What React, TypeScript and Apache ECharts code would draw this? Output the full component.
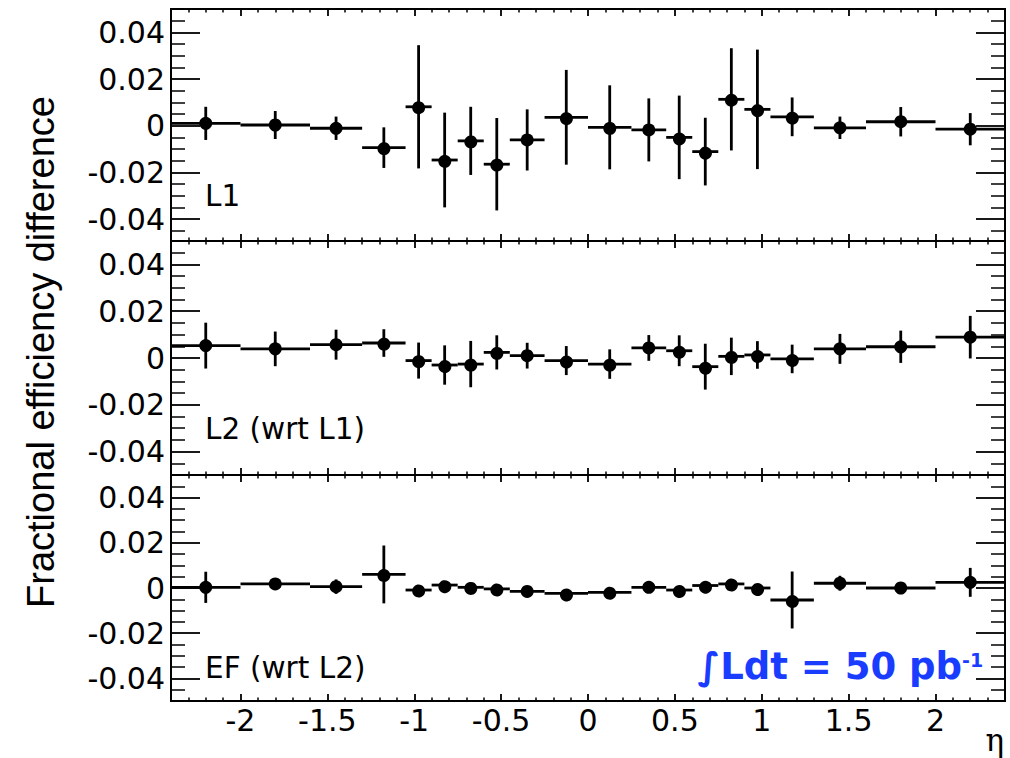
import React, { useEffect, useRef } from "react";
import * as echarts from "echarts";

// ---- data ----
const BIN_EDGES = [-2.4, -2.0, -1.6, -1.3, -1.05, -0.9, -0.75, -0.6, -0.45, -0.25, 0, 0.25, 0.45, 0.6, 0.75, 0.9, 1.05, 1.3, 1.6, 2.0, 2.4];

const L1_VALUES = [0.001, 0.0003, -0.0011, -0.0094, 0.0081, -0.0147, -0.0065, -0.0165, -0.0061, 0.0036, -0.0007, -0.0018, -0.005, -0.0111, 0.0113, 0.007, 0.0038, -0.0009, 0.0017, -0.0015];
const L1_ERRORS = [0.0071, 0.006, 0.005, 0.0087, 0.0264, 0.0203, 0.0146, 0.0198, 0.0131, 0.0203, 0.018, 0.0135, 0.0179, 0.0145, 0.0219, 0.0256, 0.0083, 0.0048, 0.0063, 0.0069];

const L2_VALUES = [0.0053, 0.0039, 0.0057, 0.0064, -0.0011, -0.003, -0.0026, 0.0024, 0.001, -0.0011, -0.0026, 0.0043, 0.0031, -0.0037, 0.0007, 0.0013, -0.0004, 0.0039, 0.0048, 0.0089];
const L2_ERRORS = [0.0098, 0.0074, 0.0064, 0.0059, 0.0077, 0.0084, 0.0099, 0.0073, 0.0055, 0.0062, 0.0063, 0.0055, 0.0066, 0.0098, 0.008, 0.0059, 0.0061, 0.0064, 0.0069, 0.0091];

const EF_VALUES = [0.0003, 0.0018, 0.0006, 0.006, -0.0009, 0.0013, 0.0003, -0.0004, -0.0015, -0.0024, -0.0019, 0.0003, -0.0009, 0.0011, 0.0018, 0.0, -0.0053, 0.0021, 0.0, 0.0025];
const EF_ERRORS = [0.0069, 0.0015, 0.0032, 0.0128, 0.001, 0.001, 0.001, 0.001, 0.001, 0.001, 0.001, 0.001, 0.001, 0.001, 0.001, 0.001, 0.0126, 0.0033, 0.0015, 0.0064];

const PANEL_LABELS = ["L1", "L2 (wrt L1)", "EF (wrt L2)"];
const X_MAJOR_TICKS = [-2, -1.5, -1, -0.5, 0, 0.5, 1, 1.5, 2];
const Y_MAJOR_TICKS = [-0.04, -0.02, 0, 0.02, 0.04];
const Y_TITLE = "Fractional efficiency difference";
const X_TITLE = "η";
const LUMI_TEXT = "∫Ldt = 50 pb";
const LUMI_SUP = "-1";

const X_MINOR_TICKS: number[] = [];
for (let i = -23; i <= 23; i++) if (i % 5 !== 0) X_MINOR_TICKS.push(i / 10);
const Y_MINOR_TICKS: number[] = [];
for (let i = -9; i <= 9; i++) if (i % 4 !== 0) Y_MINOR_TICKS.push(i * 0.005);

// ---- layout ----
const PANELS = [
  { top: 9, bottom: 241, min: -0.0494, max: 0.05 },
  { top: 241, bottom: 475, min: -0.05, max: 0.05 },
  { top: 475, bottom: 701, min: -0.05, max: 0.05 },
];
const LEFT = 171;
const RIGHT_EDGE = 1005;
const W = 1010;
const H = 758;
const TICK_FONT = "DejaVu Sans";

function buildOption() {
  const grids: any[] = [];
  const xAxes: any[] = [];
  const yAxes: any[] = [];
  const series: any[] = [];
  const values = [L1_VALUES, L2_VALUES, EF_VALUES];
  const errors = [L1_ERRORS, L2_ERRORS, EF_ERRORS];
  const axisLine = { show: true, onZero: false, lineStyle: { color: "#000", width: 2 } };
  const majorTickStyle = { color: "#000", width: 1.8 };
  const minorTickStyle = { color: "#000", width: 1.5 };

  PANELS.forEach((p, g) => {
    grids.push({ left: LEFT, width: RIGHT_EDGE - LEFT, top: p.top, height: p.bottom - p.top });
    const xBase = {
      gridIndex: g, type: "value", min: -2.4, max: 2.4,
      axisLine, splitLine: { show: false },
    };
    const isBottom = g === PANELS.length - 1;
    xAxes.push({
      ...xBase, position: "bottom",
      axisTick: { show: true, inside: true, length: 7, lineStyle: majorTickStyle, customValues: X_MAJOR_TICKS },
      axisLabel: {
        show: isBottom, customValues: X_MAJOR_TICKS, margin: 4, color: "#000",
        fontFamily: TICK_FONT, fontSize: 30,
      },
    });
    xAxes.push({
      ...xBase, position: "top",
      axisTick: { show: true, inside: true, length: 7, lineStyle: majorTickStyle, customValues: X_MAJOR_TICKS },
      axisLabel: { show: false },
    });
    xAxes.push({
      ...xBase, position: "bottom",
      axisTick: { show: true, inside: true, length: 3.5, lineStyle: minorTickStyle, customValues: X_MINOR_TICKS },
      axisLabel: { show: false },
    });
    xAxes.push({
      ...xBase, position: "top",
      axisTick: { show: true, inside: true, length: 3.5, lineStyle: minorTickStyle, customValues: X_MINOR_TICKS },
      axisLabel: { show: false },
    });

    const yBase = {
      gridIndex: g, type: "value", min: p.min, max: p.max,
      axisLine, splitLine: { show: false },
    };
    yAxes.push({
      ...yBase, position: "left",
      axisTick: { show: true, inside: true, length: 29, lineStyle: majorTickStyle, customValues: Y_MAJOR_TICKS },
      axisLabel: {
        show: true, customValues: Y_MAJOR_TICKS, margin: 6, color: "#000",
        fontFamily: TICK_FONT, fontSize: 30,
        formatter: (v: number) => String(Math.round(v * 1000) / 1000),
      },
    });
    yAxes.push({
      ...yBase, position: "right",
      axisTick: { show: true, inside: true, length: 29, lineStyle: majorTickStyle, customValues: Y_MAJOR_TICKS },
      axisLabel: { show: false },
    });
    yAxes.push({
      ...yBase, position: "left",
      axisTick: { show: true, inside: true, length: 14, lineStyle: minorTickStyle, customValues: Y_MINOR_TICKS },
      axisLabel: { show: false },
    });
    yAxes.push({
      ...yBase, position: "right",
      axisTick: { show: true, inside: true, length: 14, lineStyle: minorTickStyle, customValues: Y_MINOR_TICKS },
      axisLabel: { show: false },
    });

    const data = values[g].map((v, i) => {
      const lo = BIN_EDGES[i];
      const hi = BIN_EDGES[i + 1];
      return [(lo + hi) / 2, v, lo, hi, errors[g][i]];
    });
    series.push({
      type: "custom",
      name: PANEL_LABELS[g],
      xAxisIndex: g * 4,
      yAxisIndex: g * 4,
      data,
      encode: { x: 0, y: 1 },
      renderItem: (_params: any, api: any) => {
        const x = api.value(0);
        const y = api.value(1);
        const lo = api.value(2);
        const hi = api.value(3);
        const e = api.value(4);
        const pc = api.coord([x, y]);
        const pl = api.coord([lo, y]);
        const ph = api.coord([hi, y]);
        const pt = api.coord([x, y + e]);
        const pb = api.coord([x, y - e]);
        const st = { stroke: "#000", lineWidth: 2.8 };
        return {
          type: "group",
          children: [
            { type: "line", shape: { x1: pl[0], y1: pl[1], x2: ph[0], y2: ph[1] }, style: st },
            { type: "line", shape: { x1: pt[0], y1: pt[1], x2: pb[0], y2: pb[1] }, style: st },
            { type: "circle", shape: { cx: pc[0], cy: pc[1], r: 6.5 }, style: { fill: "#000" } },
          ],
        };
      },
    });
  });

  const labelY = [196.3, 429.2, 667.5];
  const graphic: any[] = PANEL_LABELS.map((t, i) => ({
    type: "text", x: 205, y: labelY[i],
    style: { text: t, fontFamily: TICK_FONT, fontSize: 29.5, fill: "#000", align: "left", verticalAlign: "middle" },
  }));
  graphic.push({
    type: "text", x: 41, y: 352, rotation: Math.PI / 2,
    style: { text: Y_TITLE, fontFamily: "Liberation Sans", fontSize: 38, fill: "#000", align: "center", verticalAlign: "middle" },
  });
  graphic.push({
    type: "text", x: 1004, y: 740,
    style: { text: X_TITLE, fontFamily: "DejaVu Serif", fontSize: 31, fill: "#000", align: "right", verticalAlign: "middle" },
  });
  graphic.push({
    type: "text", x: 962, y: 666.5,
    style: { text: LUMI_TEXT, fontFamily: TICK_FONT, fontWeight: "bold", fontSize: 37, fill: "#1a3cff", align: "right", verticalAlign: "middle" },
  });
  graphic.push({
    type: "text", x: 962, y: 660,
    style: { text: LUMI_SUP, fontFamily: TICK_FONT, fontWeight: "bold", fontSize: 19, fill: "#1a3cff", align: "left", verticalAlign: "middle" },
  });

  return {
    animation: false,
    backgroundColor: "#fff",
    grid: grids,
    xAxis: xAxes,
    yAxis: yAxes,
    series,
    graphic,
  };
}

export default function App() {
  const ref = useRef<HTMLDivElement>(null);
  useEffect(() => {
    if (!ref.current) return;
    const chart = echarts.init(ref.current, undefined, { renderer: "svg" });
    chart.setOption(buildOption() as any);
    return () => chart.dispose();
  }, []);
  return (
    <div
      ref={ref}
      style={{ position: "absolute", left: 0, top: 0, width: W, height: H, background: "#fff" }}
    />
  );
}
